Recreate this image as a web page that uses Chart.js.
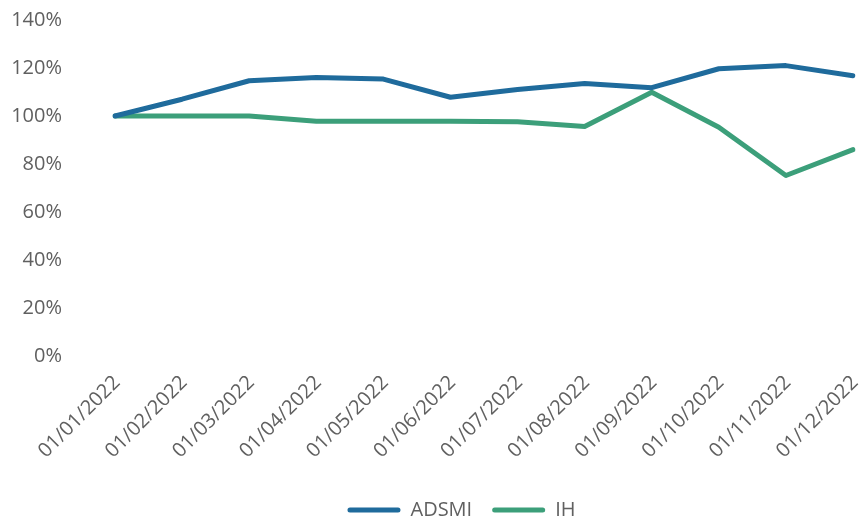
<!DOCTYPE html>
<html lang="pt">
<head>
  <meta charset="UTF-8">
  <title>ADSMI vs IH</title>
  <script src="https://cdn.jsdelivr.net/npm/chart.js"></script>
  <style>
    html, body { margin: 0; padding: 0; background: #fff; }
    .chart-box { width: 861px; height: 524px; position: relative; }
  </style>
</head>
<body>
  <div class="chart-box">
    <canvas id="myChart"></canvas>
  </div>

  <script>
    // dados
    const months = ['01/01/2022', '01/02/2022', '01/03/2022', '01/04/2022', '01/05/2022', '01/06/2022',
                    '01/07/2022', '01/08/2022', '01/09/2022', '01/10/2022', '01/11/2022', '01/12/2022'];
    const adsmi = [100, 107, 114.7, 116, 115.4, 107.8, 111, 113.5, 111.8, 119.7, 121, 116.8];
    const ih = [100, 100, 100, 97.8, 97.8, 97.8, 97.6, 95.6, 109.9, 95.3, 75.2, 86];
    const yTicks = [0, 20, 40, 60, 80, 100, 120, 140];

    const blue = '#1f6b9c';
    const green = '#3c9f7a';
    const gray = '#606060';
    const font = { family: "'Open Sans', sans-serif", size: 20 };

    // empurra a legenda um pouco para a direita, como no original
    const legendShift = {
      id: 'legendShift',
      afterLayout(chart) {
        chart.legend.left += 35;
        chart.legend.right += 35;
      }
    };

    const ctx = document.getElementById('myChart').getContext('2d');
    const myChart = new Chart(ctx, {
      type: 'line',
      data: {
        labels: months,
        datasets: [
          { label: 'ADSMI', data: adsmi, borderColor: blue, backgroundColor: blue,
            borderWidth: 5, pointRadius: 0, tension: 0, borderJoinStyle: 'round', borderCapStyle: 'round' },
          { label: 'IH', data: ih, borderColor: green, backgroundColor: green,
            borderWidth: 5, pointRadius: 0, tension: 0, borderJoinStyle: 'round', borderCapStyle: 'round' }
        ]
      },
      options: {
        responsive: true,
        maintainAspectRatio: false,
        animation: false,
        layout: { padding: { top: 20, right: 8, bottom: -6, left: 0 } },
        scales: {
          x: {
            offset: false,
            grid: { display: false, drawTicks: false },
            border: { display: false },
            afterFit: (axis) => { axis.height = 124; axis.paddingLeft = 0; axis.paddingRight = 0; },
            ticks: { color: gray, font: font, minRotation: 45, maxRotation: 45, padding: 15, labelOffset: 2 }
          },
          y: {
            min: 0,
            max: 140,
            grid: { display: false, drawTicks: false },
            border: { display: false },
            afterFit: (axis) => { axis.width = 115; axis.paddingTop = 0; axis.paddingBottom = 0; },
            afterBuildTicks: (axis) => { axis.ticks = yTicks.map(v => ({ value: v })); },
            ticks: { color: gray, font: font, padding: 53, callback: (v) => v + '%' }
          }
        },
        plugins: {
          legend: {
            position: 'bottom',
            labels: {
              color: gray,
              font: font,
              boxWidth: 53,
              boxHeight: 5,
              padding: 20,
              useBorderRadius: true,
              borderRadius: 2.5,
              generateLabels: (chart) => {
                const items = Chart.defaults.plugins.legend.labels.generateLabels(chart);
                items.forEach(i => { i.lineWidth = 0; i.fillStyle = i.strokeStyle; });
                return items;
              }
            }
          },
          tooltip: { enabled: false }
        }
      },
      plugins: [legendShift]
    });
  </script>
</body>
</html>
